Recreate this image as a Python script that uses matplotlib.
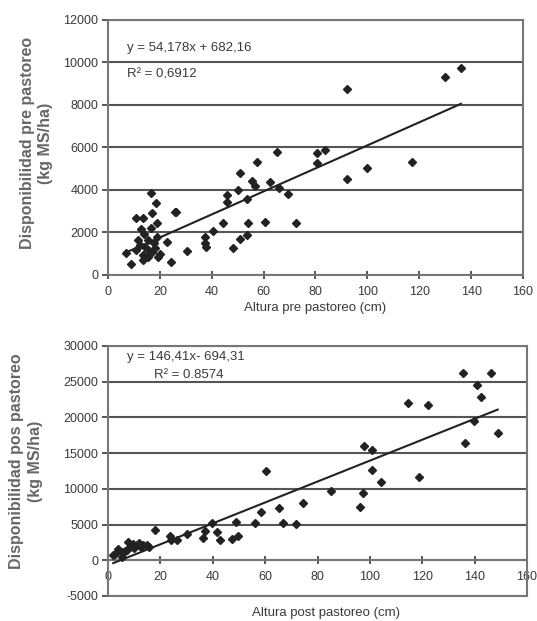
import numpy as np
import matplotlib
matplotlib.use("Agg")
import matplotlib.pyplot as plt

plt.rcParams['font.family'] = ['Liberation Sans', 'DejaVu Sans']
plt.rcParams['axes.unicode_minus'] = False

# pre-grazing height vs availability
altura_pre = [7, 9, 10.9, 13.5, 12.8, 11.6, 10.9, 12.2, 13.5, 13.5, 14.5, 15.4, 15.4,
              15.4, 16.5, 16.5, 16.9, 17.1, 17.8, 18.6, 18.8, 19, 19.3, 18, 14, 20,
              22.9, 24.2, 25.7, 26.3, 30.6, 37.4, 37.5, 37.8, 40.6, 44.2, 45.7, 46,
              48.3, 50.2, 50.9, 50.9, 53.5, 53.5, 54.1, 55.4, 57.6, 56.5, 60.5, 62.5,
              65, 66, 69.5, 72.5, 80.7, 83.7, 80.7, 92.3, 92, 99.7, 117.1, 130, 136.1]
disp_pre = [1050, 520, 2700, 2700, 2150, 1650, 1180, 1400, 940, 700, 1250, 1650, 1180,
            860, 2200, 3870, 1080, 2900, 1500, 3370, 1800, 2460, 830, 1250, 1950, 1000,
            1570, 630, 2980, 2950, 1150, 1800, 1500, 1300, 2070, 2430, 3760, 3450,
            1250, 4000, 4810, 1680, 1880, 3570, 2460, 4420, 5330, 4200, 2510, 4390,
            5800, 4080, 3800, 2460, 5730, 5880, 5250, 8740, 4520, 5020, 5330, 9330, 9720]

# post-grazing height vs availability
altura_post = [2, 2.7, 3.8, 5.2, 5.5, 6.5, 7.1, 7.6, 8.5, 9.5, 10, 11, 12, 12.5, 13.5,
               14.8, 15.5, 17.8, 23.5, 23.9, 26.2, 30, 36.4, 37, 39.6, 41.5, 42.8,
               47.2, 48.9, 49.8, 56.1, 58.3, 60.3, 65.3, 66.7, 71.8, 74.6, 85, 96.2,
               97.5, 97.9, 100.7, 100.7, 104.1, 114.7, 118.9, 122.1, 135.7, 136.3,
               139.7, 140.8, 142.3, 146.2, 148.8]
disp_post = [700, 940, 1640, 470, 1100, 1300, 1400, 2570, 1900, 2300, 1700, 2100, 2400,
             1800, 2200, 2100, 1800, 4300, 3360, 2800, 2800, 3640, 3130, 4060, 5230,
             3970, 2800, 3040, 5370, 3370, 5230, 6780, 12480, 7340, 5230, 5140, 8040,
             9720, 7480, 9350, 16030, 15420, 12620, 10980, 21970, 11680, 21730, 26170,
             16360, 19530, 24530, 22900, 26260, 17850]

pre_fit = (54.178, 682.16)
post_fit = (146.41, -694.31)

grid_c = '#555555'
txt_c = '#3a3a3a'

fig = plt.figure(figsize=(5.37, 6.21), dpi=100)
ax1 = fig.add_axes([0.2011, 0.5572, 0.7728, 0.4106])
ax2 = fig.add_axes([0.2011, 0.0403, 0.7803, 0.4026])

# top chart
x = np.array(altura_pre)
xl = np.array([x.min(), x.max()])
ax1.plot(x, disp_pre, 'D', color='#222222', markersize=4.5, zorder=3)
ax1.plot(xl, pre_fit[0] * xl + pre_fit[1], color='#222222', lw=1.5, zorder=3)
ax1.set_xlim(0, 160)
ax1.set_ylim(0, 12000)
ax1.set_xticks(range(0, 161, 20))
ax1.set_yticks(range(0, 12001, 2000))
ax1.text(0.045, 0.892, "y = 54,178x + 682,16", transform=ax1.transAxes,
         fontsize=9.5, color=txt_c, va='center')
ax1.text(0.045, 0.785, "R² = 0,6912", transform=ax1.transAxes,
         fontsize=9.5, color=txt_c, va='center')
ax1.set_xlabel("Altura pre pastoreo (cm)", fontsize=9.5, color=txt_c, labelpad=3)
ax1.set_ylabel("Disponibilidad pre pastoreo\n(kg MS/ha)", fontsize=11.5,
               fontweight='bold', color='#666666', linespacing=1.25)
ax1.yaxis.set_label_coords(-0.1325, 0.518)

# bottom chart
x = np.array(altura_post)
xl = np.array([x.min(), x.max()])
ax2.plot(x, disp_post, 'D', color='#222222', markersize=4.5, zorder=3)
ax2.plot(xl, post_fit[0] * xl + post_fit[1], color='#222222', lw=1.5, zorder=3)
ax2.set_xlim(0, 160)
ax2.set_ylim(-5000, 30000)
ax2.set_xticks(range(0, 161, 20))
ax2.set_yticks(range(-5000, 30001, 5000))
ax2.spines['bottom'].set_position(('data', 0))
ax2.axhline(-5000, color='#777777', lw=1.5, clip_on=False)
ax2.text(0.045, 0.955, "y = 146,41x- 694,31", transform=ax2.transAxes,
         fontsize=9.5, color=txt_c, va='center')
ax2.text(0.11, 0.885, "R² = 0.8574", transform=ax2.transAxes,
         fontsize=9.5, color=txt_c, va='center')
ax2.text(0.52, -0.045, "Altura post pastoreo (cm)", transform=ax2.transAxes,
         fontsize=9.5, color=txt_c, ha='center', va='top')
ax2.set_ylabel("Disponibilidad pos pastoreo\n(kg MS/ha)", fontsize=11.5,
               fontweight='bold', color='#666666', linespacing=1.35)
ax2.yaxis.set_label_coords(-0.155, 0.54)

for ax in (ax1, ax2):
    ax.yaxis.grid(True, color=grid_c, lw=1.5)
    ax.set_axisbelow(True)
    for s in ax.spines.values():
        s.set_color('#777777')
        s.set_linewidth(1.5)
    ax.tick_params(axis='both', labelsize=9, colors=txt_c, length=4, width=1.2)
    ax.tick_params(axis='x', direction='inout', length=6, pad=5)
    ax.tick_params(axis='y', pad=3)

fig.savefig("out.png", dpi=100)
